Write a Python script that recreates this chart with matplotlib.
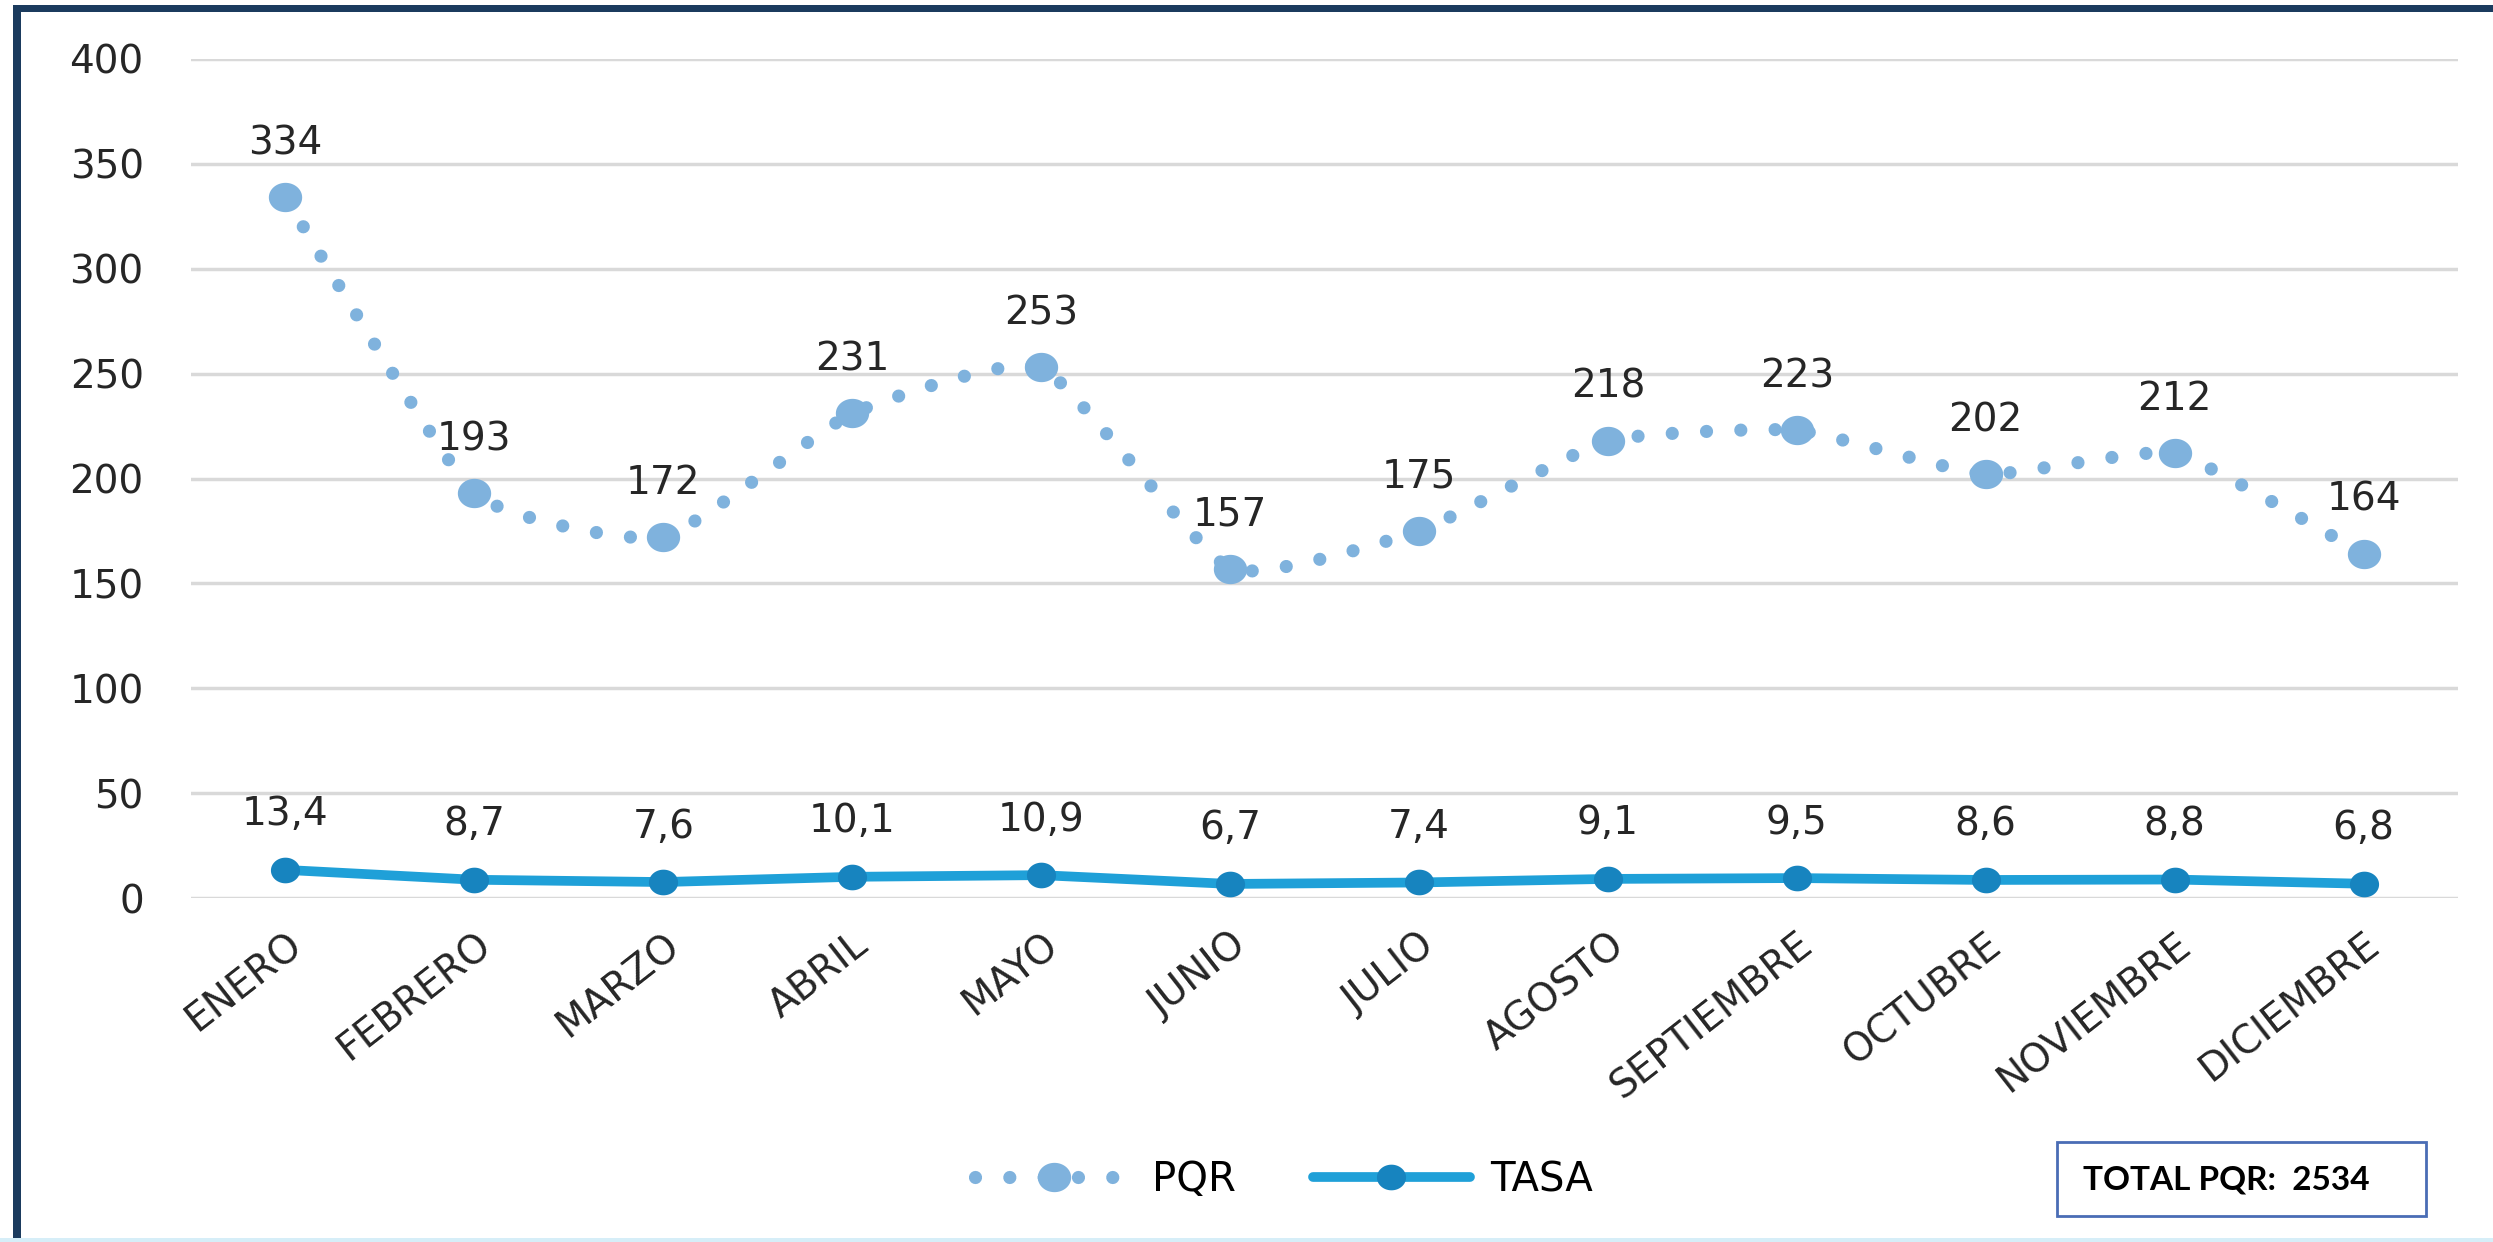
import numpy as np
import matplotlib
matplotlib.use("Agg")
import matplotlib.pyplot as plt
from matplotlib.lines import Line2D
from matplotlib.patches import Rectangle
from matplotlib.path import Path

months = ["ENERO", "FEBRERO", "MARZO", "ABRIL", "MAYO", "JUNIO", "JULIO",
          "AGOSTO", "SEPTIEMBRE", "OCTUBRE", "NOVIEMBRE", "DICIEMBRE"]
pqr = [334, 193, 172, 231, 253, 157, 175, 218, 223, 202, 212, 164]
tasa = [13.4, 8.7, 7.6, 10.1, 10.9, 6.7, 7.4, 9.1, 9.5, 8.6, 8.8, 6.8]
yticks = [0, 50, 100, 150, 200, 250, 300, 350, 400]
total_label = "TOTAL PQR:  2534"

C_PQR = "#7FB2DD"
C_TASA = "#1FA0D8"
C_TASA_M = "#1784BF"
TXT = "#262626"
FONT = "DejaVu Sans"
FS = 28

# slightly wide elliptical marker (reference is horizontally stretched)
_th = np.linspace(0, 2 * np.pi, 60)
ELLIPSE = Path(np.column_stack([1.0 * np.cos(_th), 0.88 * np.sin(_th)]), closed=True)

def smooth_path(xs, ys, k=1 / 13, n=40):
    pts = np.column_stack([xs, ys]).astype(float)
    P = np.vstack([pts[0], pts, pts[-1]])
    t = np.linspace(0, 1, n)[:, None]
    out = []
    for i in range(len(pts) - 1):
        p0, p1, p2, p3 = P[i], P[i + 1], P[i + 2], P[i + 3]
        c1 = p1 + (p2 - p0) * k
        c2 = p2 - (p3 - p1) * k
        b = ((1 - t) ** 3) * p1 + 3 * ((1 - t) ** 2) * t * c1 + 3 * (1 - t) * t ** 2 * c2 + t ** 3 * p2
        out.append(b if i == 0 else b[1:])
    arr = np.vstack(out)
    return arr[:, 0], arr[:, 1]

W, H, DPI = 2493, 1242, 100
fig = plt.figure(figsize=(W / DPI, H / DPI), dpi=DPI)
fig.patch.set_facecolor("white")

ax = fig.add_axes([191 / W, 1 - 898 / H, (2458 - 191) / W, (898 - 59) / H])
ax.set_facecolor("none")
x = np.arange(len(months))

DOTS = (0, (0.001, 2.6))
# PQR smoothed dotted line
sx, sy = smooth_path(x, pqr)
ax.plot(sx, sy, color=C_PQR, lw=9.5, linestyle=DOTS, dash_capstyle="round", zorder=3)
ax.plot(x, pqr, linestyle="none", marker=ELLIPSE, ms=24, color=C_PQR,
        markeredgewidth=0, zorder=4)

# TASA line
ax.plot(x, tasa, color=C_TASA, lw=7, solid_capstyle="round", zorder=3)
ax.plot(x, tasa, linestyle="none", marker=ELLIPSE, ms=21, color=C_TASA_M,
        markeredgewidth=0, zorder=4)

for xi, v in zip(x, pqr):
    ax.annotate(str(v), (xi, v), xytext=(0, 39), textcoords="offset points",
                ha="center", va="center", fontsize=FS, family=FONT, color=TXT)
for xi, v in zip(x, tasa):
    ax.annotate(f"{v:.1f}".replace(".", ","), (xi, v), xytext=(0, 40),
                textcoords="offset points", ha="center", va="center",
                fontsize=FS, family=FONT, color=TXT)

ax.set_xlim(-0.5, len(months) - 0.5)
ax.set_ylim(0, 400)
ax.set_yticks(yticks)
ax.set_yticklabels([str(v) for v in yticks], fontsize=FS, family=FONT, color=TXT)
ax.set_xticks(x)
ax.set_xticklabels(months, rotation=38, ha="right", va="top",
                   rotation_mode="anchor", fontsize=28, family=FONT, color=TXT)
ax.tick_params(axis="y", length=0, pad=34)
ax.tick_params(axis="x", length=0, pad=20)
for s in ax.spines.values():
    s.set_visible(False)
ax.grid(axis="y", color="#D9D9D9", lw=2.5)
ax.set_axisbelow(True)

# Legend
h1 = Line2D([0], [0], color=C_PQR, lw=9.5, linestyle=DOTS,
            dash_capstyle="round", marker=ELLIPSE, ms=24, markeredgewidth=0)
h2 = Line2D([0], [0], color=C_TASA, lw=7, marker=ELLIPSE, ms=21,
            markerfacecolor=C_TASA_M, markeredgewidth=0, solid_capstyle="round")
fig.legend([h1, h2], ["PQR", "TASA"], loc="center", bbox_to_anchor=(0.515, 1 - 1180 / H),
           ncol=2, frameon=False, prop={"family": FONT, "size": 29},
           handlelength=3.9, columnspacing=1.9, handletextpad=0.5)

# Total box
fig.patches.append(Rectangle((2057 / W, 1 - 1216 / H), (2426 - 2057) / W, (1216 - 1142) / H,
                             transform=fig.transFigure, fill=True, facecolor="white",
                             edgecolor="#4A6DB5", lw=2))
fig.text(2083 / W, 1 - 1180 / H, total_label, ha="left", va="center",
         fontsize=24, fontweight="bold", family="Lato", color="black")

# Frame
fig.patches.append(Rectangle((13 / W, 0), 8 / W, 1 - 5 / H, transform=fig.transFigure,
                             color="#1B3B5E", lw=0))
fig.patches.append(Rectangle((13 / W, 1 - 12 / H), 1 - 13 / W, 7 / H, transform=fig.transFigure,
                             color="#1B3B5E", lw=0))
fig.patches.append(Rectangle((0, 0), 1, 4 / H, transform=fig.transFigure,
                             color="#D6EEF8", lw=0))

fig.savefig("out.png", dpi=DPI)
